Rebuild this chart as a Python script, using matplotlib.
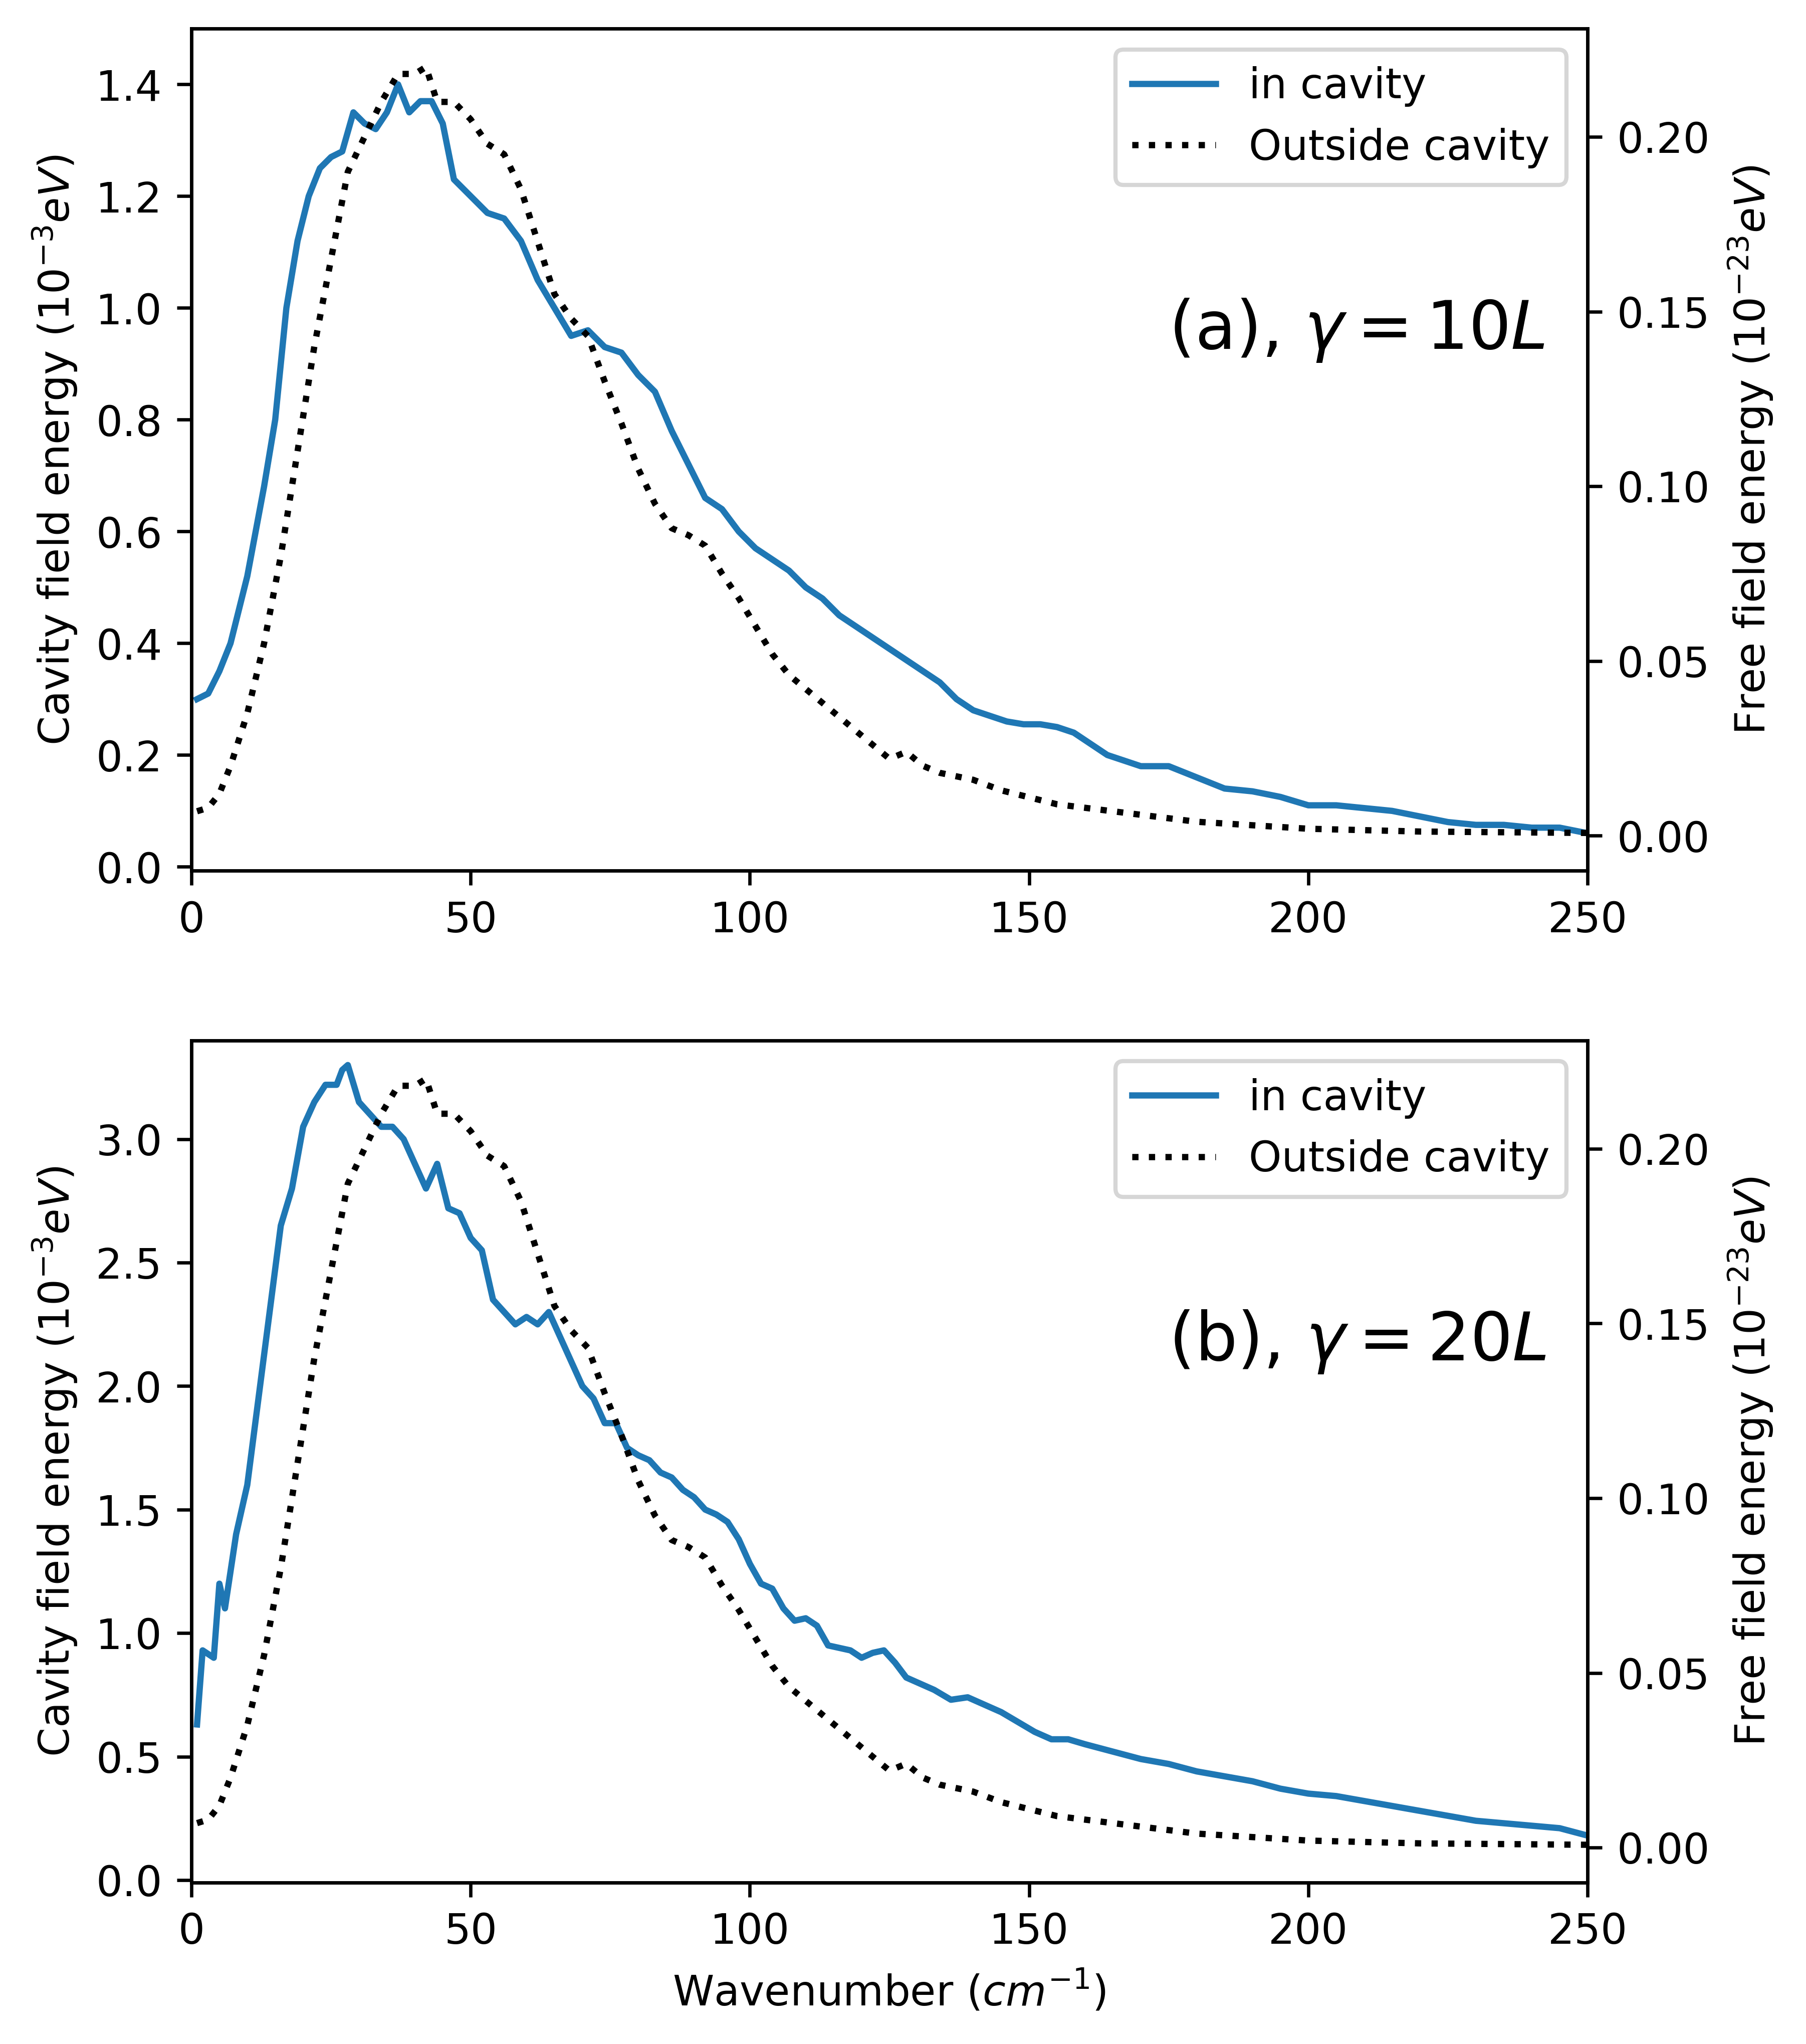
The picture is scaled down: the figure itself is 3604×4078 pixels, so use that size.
import matplotlib
matplotlib.use("Agg")
import matplotlib.pyplot as plt

xa = [1,3,5,7,10,13,15,17,19,21,23,25,27,29,31,33,35,37,39,41,43,45,47,50,53,56,59,62,65,68,71,74,77,80,83,86,89,92,95,98,101,104,107,110,113,116,119,122,125,128,131,134,137,140,143,146,149,152,155,158,161,164,167,170,175,180,185,190,195,200,205,210,215,220,225,230,235,240,245,250]
ya = [0.30,0.31,0.35,0.40,0.52,0.68,0.80,1.0,1.12,1.2,1.25,1.27,1.28,1.35,1.33,1.32,1.35,1.40,1.35,1.37,1.37,1.33,1.23,1.2,1.17,1.16,1.12,1.05,1.0,0.95,0.96,0.93,0.92,0.88,0.85,0.78,0.72,0.66,0.64,0.60,0.57,0.55,0.53,0.50,0.48,0.45,0.43,0.41,0.39,0.37,0.35,0.33,0.30,0.28,0.27,0.26,0.255,0.255,0.25,0.24,0.22,0.20,0.19,0.18,0.18,0.16,0.14,0.135,0.125,0.11,0.11,0.105,0.10,0.09,0.08,0.075,0.075,0.07,0.07,0.06]

xf = [1,3,5,7,10,13,16,19,22,25,28,31,34,37,40,42,44,47,50,53,56,59,62,65,68,71,74,77,80,83,86,89,92,95,98,101,104,107,110,113,116,119,122,125,128,131,134,137,140,145,150,155,160,170,180,190,200,220,250]
yf = [0.007,0.008,0.012,0.02,0.035,0.055,0.08,0.11,0.14,0.165,0.19,0.2,0.21,0.218,0.218,0.22,0.21,0.21,0.205,0.198,0.195,0.185,0.17,0.155,0.148,0.143,0.13,0.118,0.105,0.095,0.088,0.086,0.083,0.075,0.068,0.06,0.052,0.046,0.042,0.038,0.034,0.030,0.026,0.022,0.024,0.02,0.018,0.017,0.016,0.013,0.011,0.009,0.008,0.006,0.004,0.003,0.002,0.0012,0.0008]

xb = [1,2,4,5,6,8,10,12,14,16,18,20,22,24,26,27,28,30,32,34,36,38,40,42,44,46,48,50,52,54,56,58,60,62,64,66,68,70,72,74,76,78,80,82,84,86,88,90,92,94,96,98,100,102,104,106,108,110,112,114,116,118,120,122,124,126,128,130,133,136,139,142,145,148,151,154,157,160,165,170,175,180,185,190,195,200,205,210,215,220,225,230,235,240,245,250]
yb = [0.63,0.93,0.9,1.2,1.1,1.4,1.6,1.95,2.3,2.65,2.8,3.05,3.15,3.22,3.22,3.28,3.3,3.15,3.1,3.05,3.05,3.0,2.9,2.8,2.9,2.72,2.7,2.6,2.55,2.35,2.3,2.25,2.28,2.25,2.3,2.2,2.1,2.0,1.95,1.85,1.85,1.75,1.72,1.7,1.65,1.63,1.58,1.55,1.5,1.48,1.45,1.38,1.28,1.2,1.18,1.1,1.05,1.06,1.03,0.95,0.94,0.93,0.9,0.92,0.93,0.88,0.82,0.8,0.77,0.73,0.74,0.71,0.68,0.64,0.6,0.57,0.57,0.55,0.52,0.49,0.47,0.44,0.42,0.40,0.37,0.35,0.34,0.32,0.3,0.28,0.26,0.24,0.23,0.22,0.21,0.18]

fig = plt.figure(figsize=(6.007, 6.797), dpi=600)
panels = [(ya, xa, (-0.007, 1.50), r"(a), $\gamma = 10L$", [0.106, 0.574, 0.773, 0.412]),
          (yb, xb, (-0.01, 3.40), r"(b), $\gamma = 20L$", [0.106, 0.079, 0.773, 0.412])]
for i, (y, x, yl, lab, pos) in enumerate(panels):
    ax = fig.add_axes(pos)
    l1, = ax.plot(x, y, color="#1f77b4", lw=1.5, label="in cavity")
    ax.set_xlim(0, 250)
    ax.set_ylim(*yl)
    ax.set_ylabel(r"Cavity field energy ($10^{-3}eV$)")
    ax2 = ax.twinx()
    l2, = ax2.plot(xf, yf, color="black", ls=":", lw=1.5, label="Outside cavity")
    ax2.set_ylim(-0.010, 0.231)
    ax2.set_ylabel(r"Free field energy ($10^{-23}eV$)")
    ax.legend(handles=[l1, l2], loc="upper right")
    ax.text(0.70, 0.62, lab, transform=ax.transAxes, fontsize=16)
    if i == 1:
        ax.set_xlabel(r"Wavenumber ($cm^{-1}$)")
fig.savefig("out.png", dpi=600)
